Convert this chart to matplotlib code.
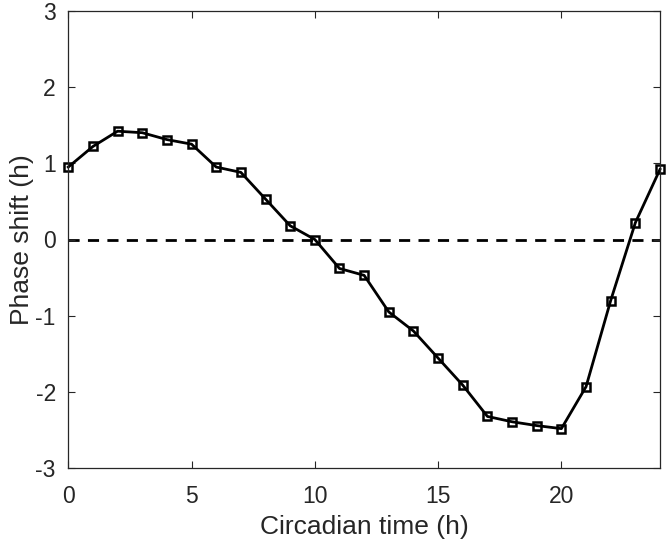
import matplotlib
matplotlib.use('Agg')
import matplotlib.pyplot as plt

plt.rcParams['font.family'] = ['Liberation Sans', 'DejaVu Sans']
plt.rcParams['axes.unicode_minus'] = False

ct = list(range(0, 25))
shift = [0.95, 1.22, 1.42, 1.40, 1.31, 1.25, 0.95, 0.88, 0.53, 0.18, 0.0,
         -0.38, -0.47, -0.95, -1.20, -1.555, -1.91, -2.32, -2.39, -2.44, -2.48,
         -1.93, -0.80, 0.22, 0.92]

dark = '#262626'

fig = plt.figure(figsize=(6.68, 5.43), dpi=100)
ax = fig.add_axes([68.3/668, 1 - 468.3/543, (660 - 68.3)/668, (468.3 - 10.7)/543])

ax.axhline(0, color='black', linestyle=(0, (4, 3)), linewidth=2, zorder=1)
ax.plot(ct, shift, color='black', linewidth=2, marker='s', ms=5.5, mfc='none',
        mec='black', mew=1.8, zorder=2, clip_on=False)

ax.set_xlim(0, 24)
ax.set_ylim(-3, 3)
ax.set_xticks([0, 5, 10, 15, 20])
ax.set_yticks([-3, -2, -1, 0, 1, 2, 3])

ax.tick_params(direction='in', top=True, right=True, length=5, width=0.8,
               colors=dark, labelsize=16.5)
ax.tick_params(axis='x', pad=12)
ax.tick_params(axis='y', pad=9)
for sp in ax.spines.values():
    sp.set_color(dark)
    sp.set_linewidth(0.9)

ax.set_xlabel('Circadian time (h)', fontsize=19, color=dark, labelpad=5)
ax.set_ylabel('Phase shift (h)', fontsize=19, color=dark, labelpad=1)

fig.savefig('out.png', dpi=100)
